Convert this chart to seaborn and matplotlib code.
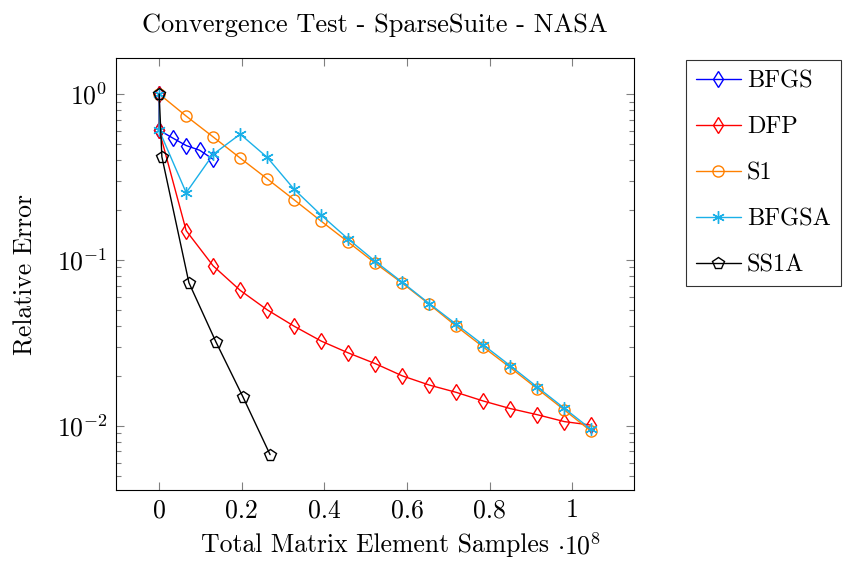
import numpy as np
import pandas as pd
import matplotlib
matplotlib.use("Agg")
import matplotlib.pyplot as plt
import matplotlib.ticker as mticker
import seaborn as sns

# ---- data (x in matrix element samples) ----
x_bfgs = [0, 0, 0.0327e8, 0.0654e8, 0.0981e8, 0.1308e8]
y_bfgs = [1.0, 0.605, 0.543, 0.489, 0.458, 0.404]

x_dfp = [0, 0, 0.0654e8, 0.1308e8, 0.1962e8, 0.2616e8, 0.327e8, 0.3924e8, 0.4578e8,
         0.5232e8, 0.5886e8, 0.654e8, 0.7194e8, 0.7848e8, 0.8502e8, 0.9156e8, 0.981e8, 1.045e8]
y_dfp = [1.0, 0.605, 0.150, 0.092, 0.0655, 0.050, 0.0398, 0.0324, 0.0275, 0.0237,
         0.0200, 0.0176, 0.0159, 0.0141, 0.0127, 0.01166, 0.0106, 0.0101]

x_s1 = [0, 0.0654e8, 0.1308e8, 0.1962e8, 0.2616e8, 0.327e8, 0.3924e8, 0.4578e8,
        0.5232e8, 0.5886e8, 0.654e8, 0.7194e8, 0.7848e8, 0.8502e8, 0.9156e8, 0.981e8, 1.045e8]
y_s1 = [1.0, 0.736, 0.551, 0.411, 0.308, 0.230, 0.171, 0.128, 0.0955, 0.0724,
        0.0540, 0.0398, 0.0298, 0.0224, 0.0167, 0.01245, 0.0093]

x_bfgsa = [0, 0, 0.0654e8, 0.1308e8, 0.1962e8, 0.2616e8, 0.327e8, 0.3924e8, 0.4578e8,
           0.5232e8, 0.5886e8, 0.654e8, 0.7194e8, 0.7848e8, 0.8502e8, 0.9156e8, 0.981e8, 1.045e8]
y_bfgsa = [1.0, 0.605, 0.254, 0.433, 0.573, 0.415, 0.266, 0.186, 0.1335, 0.098,
           0.0733, 0.0545, 0.0409, 0.0307, 0.0230, 0.0171, 0.01274, 0.00955]

x_ss1a = [0, 0.0065e8, 0.072e8, 0.1375e8, 0.203e8, 0.2685e8]
y_ss1a = [1.0, 0.419, 0.0729, 0.032, 0.0149, 0.0067]

series_names = ["BFGS", "DFP", "S1", "BFGSA", "SS1A"]
title = "Convergence Test - SparseSuite - NASA"
xlabel = "Total Matrix Element Samples"
ylabel = "Relative Error"
x_ticks = [0, 0.2, 0.4, 0.6, 0.8, 1.0]
x_tick_labels = ["0", "0.2", "0.4", "0.6", "0.8", "1"]
x_scale = 1e8

# ---- style ----
sns.set_style("ticks")
plt.rcParams["font.family"] = "serif"
plt.rcParams["font.serif"] = ["cmr10", "DejaVu Serif"]
plt.rcParams["mathtext.fontset"] = "cm"
plt.rcParams["axes.formatter.use_mathtext"] = True
plt.rcParams["axes.unicode_minus"] = False
for k in ["text.color", "axes.labelcolor", "xtick.labelcolor", "ytick.labelcolor"]:
    plt.rcParams[k] = "black"

FS = 18.5

styles = {
    "BFGS": dict(color="#0000ff", marker="d", ms=8),
    "DFP": dict(color="#ff0000", marker="d", ms=8),
    "S1": dict(color="#ff8000", marker="o", ms=8),
    "BFGSA": dict(color="#1ab0e8", marker=(6, 2, 0), ms=9),
    "SS1A": dict(color="#000000", marker="p", ms=8.5),
}

frames = []
for name, xs, ys in [("BFGS", x_bfgs, y_bfgs), ("DFP", x_dfp, y_dfp), ("S1", x_s1, y_s1),
                     ("BFGSA", x_bfgsa, y_bfgsa), ("SS1A", x_ss1a, y_ss1a)]:
    frames.append(pd.DataFrame({"x": np.array(xs) / x_scale, "y": ys, "series": name}))
df = pd.concat(frames, ignore_index=True)

fig = plt.figure(figsize=(8.43, 5.63), dpi=100)
ax = fig.add_axes([116 / 843, 1 - 490 / 563, 518 / 843, 432 / 563])

for name in series_names:
    st = styles[name]
    sub = df[df.series == name]
    sns.lineplot(data=sub, x="x", y="y", ax=ax, sort=False, estimator=None,
                 color=st["color"], marker=st["marker"], markersize=st["ms"],
                 markerfacecolor="none", markeredgecolor=st["color"], markeredgewidth=1.0,
                 linewidth=1.0, label=name)

ax.set_yscale("log")
ax.set_xlim(-0.1045, 1.1495)
ax.set_ylim(10 ** -2.387, 10 ** 0.217)
ax.set_xticks(x_ticks)
ax.set_xticklabels(x_tick_labels)
ax.yaxis.set_major_locator(mticker.LogLocator(base=10, numticks=10))
ax.yaxis.set_minor_locator(mticker.LogLocator(base=10, subs=np.arange(2, 10), numticks=20))
ax.yaxis.set_minor_formatter(mticker.NullFormatter())

ax.tick_params(axis="both", which="major", direction="in", length=6, width=0.8,
               color="#808080", top=True, right=True, labelsize=FS, pad=6)
ax.tick_params(axis="both", which="minor", direction="in", length=3.5, width=0.8,
               color="#808080", top=True, right=True)
ax.tick_params(axis="x", which="minor", bottom=False, top=False)
for sp in ax.spines.values():
    sp.set_color("black")
    sp.set_linewidth(0.8)

ax.set_title(title, fontsize=19, pad=19)
ax.set_xlabel(xlabel, fontsize=FS, labelpad=8)
ax.set_ylabel(ylabel, fontsize=FS, labelpad=14)
ax.text(0.852, -0.1, r"$\cdot 10^{8}$", transform=ax.transAxes, fontsize=FS,
        ha="left", va="top")

leg = ax.legend(loc="upper left", bbox_to_anchor=(1.1, 0.995), borderaxespad=0,
                fontsize=17.5, frameon=True, fancybox=False, edgecolor="black",
                handlelength=1.85, labelspacing=0.98, borderpad=0.42, handletextpad=0.25)
leg.get_frame().set_linewidth(0.8)

fig.savefig("out.png", dpi=100)
